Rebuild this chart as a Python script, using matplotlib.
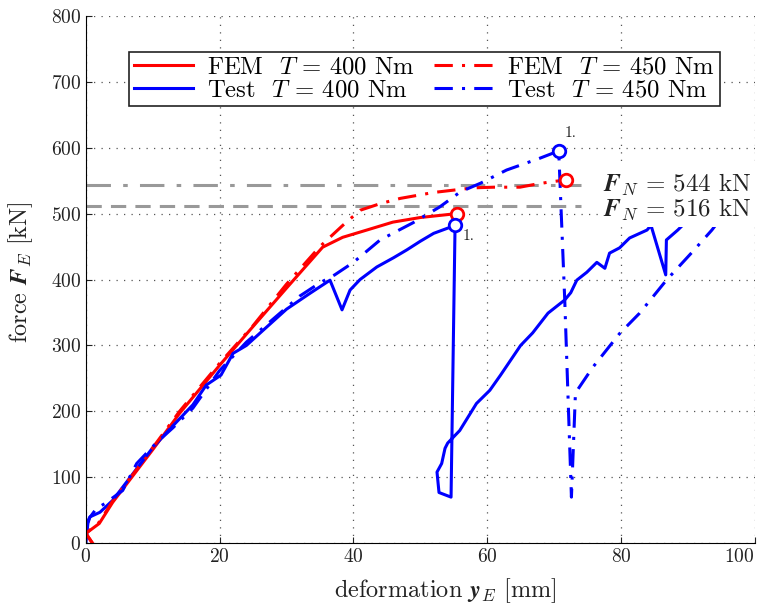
import matplotlib
matplotlib.use('Agg')
import matplotlib.pyplot as plt

# FEM T = 400 Nm
fem400_x = [1.0, 0.0, 2.0, 4.0, 7.0, 10.0, 14.0, 20.0, 24.5, 30.0, 35.4, 38.4, 42.0, 45.9, 50.0, 55.5]
fem400_y = [0, 15, 30, 62, 102, 142, 197, 270, 323, 387, 449, 464, 475, 487, 494, 500]

# FEM T = 450 Nm
fem450_x = [1.0, 0.0, 2.0, 4.0, 7.0, 10.0, 14.0, 20.0, 25.0, 30.0, 35.0, 38.4, 41.0, 44.0, 47.0, 52.0,
            57.9, 61.0, 64.9, 67.0, 69.4, 71.8]
fem450_y = [0, 15, 32, 64, 104, 145, 200, 273, 330, 393, 450, 482, 505, 515, 523, 532,
            539, 540, 540, 544, 548, 551]

# Test T = 400 Nm
test400_x = [0.0, 0.3, 0.6, 2.1, 4.0, 7.0, 10.0, 13.0, 16.0, 18.0, 20.2, 22.0, 24.0, 26.5, 30.0, 33.5,
             36.5, 38.3, 39.5, 41.0, 43.5, 46.0, 48.0, 50.0, 52.0, 55.2, 54.6, 52.8, 52.5, 53.2, 53.7,
             54.1, 55.9, 58.4, 60.4, 62.0, 63.8, 65.0, 66.8, 69.1, 71.6, 72.5, 73.4, 74.9, 76.4, 77.6,
             78.3, 79.8, 81.3, 83.9, 84.5, 86.7, 86.8, 88.5, 90.0]
test400_y = [0, 30, 40, 47, 65, 105, 145, 178, 210, 240, 255, 288, 300, 323, 355, 379,
             399, 354, 384, 400, 419, 433, 445, 458, 470, 482, 70, 77, 108, 121, 144,
             152, 171, 212, 232, 255, 282, 300, 319, 349, 369, 380, 399, 411, 426, 417,
             440, 448, 463, 475, 482, 407, 460, 475, 490]

# Test T = 450 Nm
test450_x = [0.0, 0.5, 1.6, 2.8, 5.5, 7.6, 10.6, 13.0, 16.0, 20.0, 24.0, 28.0, 32.0, 35.0, 37.2, 40.0,
             44.0, 48.9, 52.9, 56.0, 59.0, 62.9, 67.9, 70.7, 71.6, 72.6, 73.2, 75.8, 79.8, 82.8, 86.8,
             90.7, 93.6, 97.0]
test450_y = [25, 38, 53, 60, 80, 121, 153, 175, 205, 262, 305, 340, 375, 395, 407, 426,
             460, 486, 510, 533, 546, 566, 584, 595, 369, 70, 228, 267, 318, 349, 399,
             442, 475, 520]

fn_levels = [544, 512]
fn_labels = ['544', '516']

plt.rcParams['font.family'] = 'serif'
plt.rcParams['font.serif'] = ['cmr10', 'DejaVu Serif']
plt.rcParams['mathtext.fontset'] = 'cm'
plt.rcParams['axes.unicode_minus'] = False
plt.rcParams['axes.formatter.use_mathtext'] = True

fig = plt.figure(figsize=(7.6, 6.05), dpi=100)
ax = fig.add_axes([0.113, 0.102, 0.88, 0.872])

gray = '#999999'
ax.plot([0, 74], [fn_levels[0], fn_levels[0]], color=gray, lw=2.2, dashes=[8, 4, 1.5, 4])
ax.plot([0, 74], [fn_levels[1], fn_levels[1]], color=gray, lw=2.2, dashes=[5, 3])

ax.plot(fem400_x, fem400_y, color='red', lw=2.2, label='FEM  $T$ = 400 Nm')
ax.plot(test400_x, test400_y, color='blue', lw=2.2, label='Test  $T$ = 400 Nm')
ax.plot(fem450_x, fem450_y, color='red', lw=2.2, dashes=[6, 3, 1, 3], label='FEM  $T$ = 450 Nm')
ax.plot(test450_x, test450_y, color='blue', lw=2.2, dashes=[6, 3, 1, 3], label='Test  $T$ = 450 Nm')

# failure markers
ax.plot(fem400_x[-1], fem400_y[-1], 'o', ms=9, mfc='white', mec='red', mew=2)
ax.plot(fem450_x[-1], fem450_y[-1], 'o', ms=9, mfc='white', mec='red', mew=2)
ax.plot(test400_x[25], test400_y[25], 'o', ms=9, mfc='white', mec='blue', mew=2)
ax.plot(test450_x[23], test450_y[23], 'o', ms=9, mfc='white', mec='blue', mew=2)
ax.text(56.4, 466, '1.', fontsize=11, va='center', color='#222222')
ax.text(71.6, 622, '1.', fontsize=11, va='center', color='#222222')

ax.text(77.3, 525, '$\\mathbfit{F}_N$ = ' + fn_labels[0] + ' kN\n$\\mathbfit{F}_N$ = ' + fn_labels[1] + ' kN',
        fontsize=18, va='center', ha='left', linespacing=0.95, color='#222222', zorder=5,
        bbox=dict(facecolor='white', edgecolor='none', pad=3))

ax.set_xlim(0, 100)
ax.set_ylim(0, 800)
ax.set_xticks([0, 20, 40, 60, 80, 100])
ax.set_yticks(range(0, 801, 100))
ax.tick_params(direction='in', labelsize=14, length=4, colors='#222222')
ax.get_xticklabels()[-1].set_horizontalalignment('right')
ax.grid(True, linestyle=(0, (1, 5)), color='#555555', lw=0.9)
ax.spines['top'].set_visible(False)
ax.spines['right'].set_visible(False)
ax.set_xlabel('deformation $\\mathbfit{y}_E$ [mm]', fontsize=17.5, color='#222222')
ax.set_ylabel('force $\\mathbfit{F}_E$ [kN]', fontsize=17.5, color='#222222', va='center')
ax.xaxis.set_label_coords(0.537, -0.062)
ax.yaxis.set_label_coords(-0.097, 0.514)

handles, labels = ax.get_legend_handles_labels()
leg = ax.legend(handles, labels, ncol=2, loc='upper left', bbox_to_anchor=(0.064, 0.932),
                borderaxespad=0, fontsize=17.8, handlelength=2.4, columnspacing=0.8,
                labelspacing=0.0, fancybox=False, framealpha=1, edgecolor='#222222',
                borderpad=0.2, handletextpad=0.55)
leg.get_frame().set_linewidth(1.2)

fig.savefig('out.png', dpi=100)
